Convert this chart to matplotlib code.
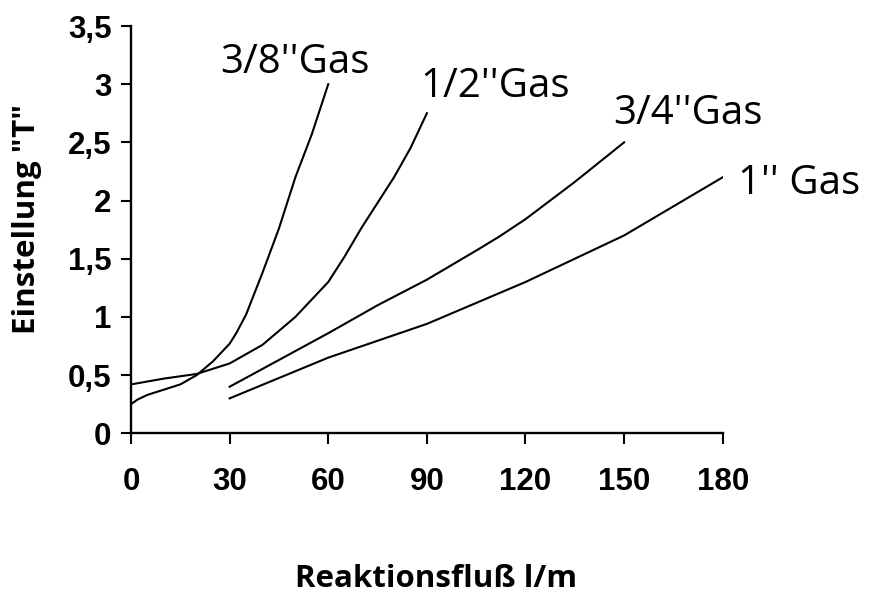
"""
plot.py

Einstellung "T" gegen Reaktionsfluss fuer vier Gas-Anschluesse.
"""

import matplotlib
matplotlib.use("Agg")
import matplotlib.pyplot as plt

# Werte
x_38 = [0, 2, 5, 10, 15, 20, 25, 30, 32, 35, 40, 45, 50, 55, 60]
y_38 = [0.25, 0.29, 0.33, 0.375, 0.42, 0.50, 0.62, 0.77, 0.86, 1.02, 1.38, 1.76, 2.2, 2.57, 3.0]

x_12 = [0, 10, 20, 30, 40, 50, 60, 65, 70, 75, 80, 85, 90]
y_12 = [0.42, 0.47, 0.51, 0.60, 0.76, 1.0, 1.3, 1.52, 1.76, 1.98, 2.2, 2.45, 2.75]

x_34 = [30, 45, 60, 75, 90, 105, 112, 120, 135, 150]
y_34 = [0.4, 0.63, 0.86, 1.1, 1.32, 1.57, 1.69, 1.84, 2.16, 2.5]

x_1 = [30, 60, 90, 120, 150, 180]
y_1 = [0.3, 0.65, 0.94, 1.3, 1.7, 2.2]

x_ticks = [0, 30, 60, 90, 120, 150, 180]
y_ticks = [0, 0.5, 1, 1.5, 2, 2.5, 3, 3.5]
y_tick_labels = ["0", "0,5", "1", "1,5", "2", "2,5", "3", "3,5"]

series_labels = ["3/8''Gas", "1/2''Gas", "3/4''Gas", "1'' Gas"]


def main():

    fig = plt.figure(figsize=(8.7, 5.95), dpi=100)
    ax = fig.add_axes([0.1506, 0.2718, 0.6801, 0.6845])

    # Kurven
    for xs, ys in [(x_38, y_38), (x_12, y_12), (x_34, y_34), (x_1, y_1)]:
        ax.plot(xs, ys, color="black", linewidth=1.5, solid_joinstyle="round")

    # Beschriftungen der Kurven
    label_pos = [(27.1, 3.096), (87.9, 2.89), (146.6, 2.66), (184.7, 2.06)]
    for text, (lx, ly) in zip(series_labels, label_pos):
        ax.text(lx, ly, text, fontsize=29, family="Open Sans",
                ha="left", va="baseline", clip_on=False)

    ax.set_xlim(0, 180)
    ax.set_ylim(0, 3.5)

    ax.set_xticks(x_ticks)
    ax.set_xticklabels([str(v) for v in x_ticks])
    ax.set_yticks(y_ticks)
    ax.set_yticklabels(y_tick_labels)

    for lbl in ax.get_xticklabels() + ax.get_yticklabels():
        lbl.set_family("Liberation Sans")
        lbl.set_fontweight("bold")
        lbl.set_fontsize(22.5)

    ax.tick_params(axis="x", direction="out", length=8, width=1.5, pad=16)
    ax.tick_params(axis="y", direction="out", length=7, width=1.5, pad=7)

    ax.spines["top"].set_visible(False)
    ax.spines["right"].set_visible(False)
    ax.spines["left"].set_linewidth(1.7)
    ax.spines["bottom"].set_linewidth(1.7)

    # Achsentitel
    fig.text(436.5 / 870, 1 - 587 / 595, "Reaktionsfluß l/m", fontsize=22.5,
             family="Open Sans", fontweight="bold", ha="center", va="baseline")
    fig.text(27 / 870, 1 - 219 / 595, 'Einstellung "T"', fontsize=22.5,
             family="Open Sans", fontweight="bold", rotation=90,
             ha="center", va="center")

    fig.savefig("out.png", dpi=100)


if __name__ == "__main__":
    main()
